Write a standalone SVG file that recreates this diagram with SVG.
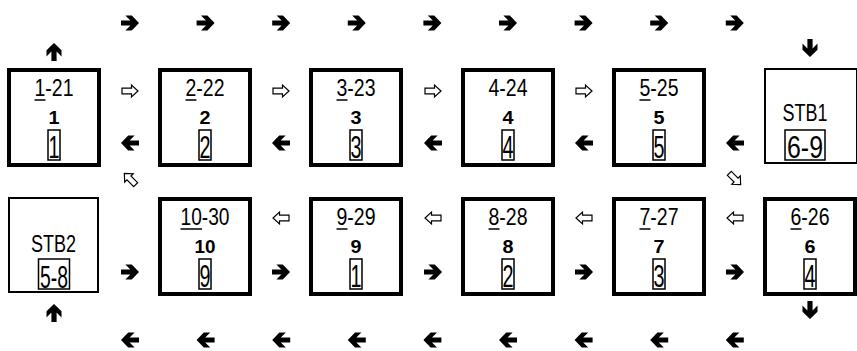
<svg xmlns="http://www.w3.org/2000/svg" xmlns:xlink="http://www.w3.org/1999/xlink" width="857" height="351" viewBox="0 0 857 351">
<style>
text{font-family:"Liberation Sans",Arial,sans-serif;fill:#000;text-anchor:middle}
.l1{font-size:24px}
.l2{font-size:19px;font-weight:bold}
.l3{font-size:32px}
.thick{fill:#fff;stroke:#000;stroke-width:4}
.thin{fill:#fff;stroke:#000;stroke-width:2}
.ib{fill:none;stroke:#000;stroke-width:1.5}
.ul{stroke:#000;stroke-width:1.5}
.bold{fill:#000}
.hollow{fill:#fff;stroke:#000;stroke-width:1.2;stroke-linejoin:miter}
</style>
<defs>
<path id="ab" class="bold" d="M -9,-2.6 H 0.4 L -4.6,-7.5 H 1.8 L 9,0 L 1.8,7.5 H -4.6 L 0.4,2.6 H -9 Z"/>
<path id="ah" class="hollow" d="M -8,-2.8 H 1.5 V -6 L 8,0 L 1.5,6 V 2.8 H -8 Z"/>
</defs>
<rect width="857" height="351" fill="#fff"/>

<!-- top row -->
<g id="n1"><rect class="thick" x="9" y="70" width="90" height="95"/>
<text class="l1" x="54" y="96" textLength="39" lengthAdjust="spacingAndGlyphs">1-21</text><line class="ul" x1="34.5" y1="100" x2="45.5" y2="100"/>
<text class="l2" x="54" y="123.5" textLength="11" lengthAdjust="spacingAndGlyphs">1</text>
<rect class="ib" x="48" y="130" width="12" height="30"/><text class="l3" x="54" y="158" textLength="11" lengthAdjust="spacingAndGlyphs">1</text></g>

<g id="n2"><rect class="thick" x="160" y="70" width="90" height="95"/>
<text class="l1" x="205" y="96" textLength="39" lengthAdjust="spacingAndGlyphs">2-22</text><line class="ul" x1="185.5" y1="100" x2="196.5" y2="100"/>
<text class="l2" x="205" y="123.5" textLength="11" lengthAdjust="spacingAndGlyphs">2</text>
<rect class="ib" x="199" y="130" width="12" height="30"/><text class="l3" x="205" y="158" textLength="11" lengthAdjust="spacingAndGlyphs">2</text></g>

<g id="n3"><rect class="thick" x="311" y="70" width="90" height="95"/>
<text class="l1" x="356" y="96" textLength="39" lengthAdjust="spacingAndGlyphs">3-23</text><line class="ul" x1="336.5" y1="100" x2="347.5" y2="100"/>
<text class="l2" x="356" y="123.5" textLength="11" lengthAdjust="spacingAndGlyphs">3</text>
<rect class="ib" x="350" y="130" width="12" height="30"/><text class="l3" x="356" y="158" textLength="11" lengthAdjust="spacingAndGlyphs">3</text></g>

<g id="n4"><rect class="thick" x="463" y="70" width="90" height="95"/>
<text class="l1" x="508" y="96" textLength="39" lengthAdjust="spacingAndGlyphs">4-24</text>
<text class="l2" x="508" y="123.5" textLength="11" lengthAdjust="spacingAndGlyphs">4</text>
<rect class="ib" x="502" y="130" width="12" height="30"/><text class="l3" x="508" y="158" textLength="11" lengthAdjust="spacingAndGlyphs">4</text></g>

<g id="n5"><rect class="thick" x="614" y="70" width="90" height="95"/>
<text class="l1" x="659" y="96" textLength="39" lengthAdjust="spacingAndGlyphs">5-25</text><line class="ul" x1="639.5" y1="100" x2="650.5" y2="100"/>
<text class="l2" x="659" y="123.5" textLength="11" lengthAdjust="spacingAndGlyphs">5</text>
<rect class="ib" x="653" y="130" width="12" height="30"/><text class="l3" x="659" y="158" textLength="11" lengthAdjust="spacingAndGlyphs">5</text></g>

<g id="stb1"><rect class="thin" x="765" y="69" width="92" height="94"/>
<text class="l1" x="805" y="121" textLength="45" lengthAdjust="spacingAndGlyphs">STB1</text>
<rect class="ib" x="785" y="130" width="40" height="30"/><text class="l3" x="805" y="158" textLength="36" lengthAdjust="spacingAndGlyphs">6-9</text></g>

<!-- bottom row -->
<g id="stb2"><rect class="thin" x="9" y="198" width="89" height="94"/>
<text class="l1" x="53.5" y="252" textLength="45" lengthAdjust="spacingAndGlyphs">STB2</text>
<rect class="ib" x="38.5" y="259" width="31" height="30"/><text class="l3" x="54" y="287.5" textLength="28" lengthAdjust="spacingAndGlyphs">5-8</text></g>

<g id="n10"><rect class="thick" x="160" y="199" width="90" height="95"/>
<text class="l1" x="205" y="225" textLength="49" lengthAdjust="spacingAndGlyphs">10-30</text><line class="ul" x1="180.5" y1="229" x2="202" y2="229"/>
<text class="l2" x="205" y="252.5" textLength="21" lengthAdjust="spacingAndGlyphs">10</text>
<rect class="ib" x="199" y="259" width="12" height="30"/><text class="l3" x="205" y="287" textLength="11" lengthAdjust="spacingAndGlyphs">9</text></g>

<g id="n9"><rect class="thick" x="311" y="199" width="90" height="95"/>
<text class="l1" x="356" y="225" textLength="39" lengthAdjust="spacingAndGlyphs">9-29</text><line class="ul" x1="336.5" y1="229" x2="347.5" y2="229"/>
<text class="l2" x="356" y="252.5" textLength="11" lengthAdjust="spacingAndGlyphs">9</text>
<rect class="ib" x="350" y="259" width="12" height="30"/><text class="l3" x="356" y="287" textLength="11" lengthAdjust="spacingAndGlyphs">1</text></g>

<g id="n8"><rect class="thick" x="463" y="199" width="90" height="95"/>
<text class="l1" x="508" y="225" textLength="39" lengthAdjust="spacingAndGlyphs">8-28</text><line class="ul" x1="488.5" y1="229" x2="499.5" y2="229"/>
<text class="l2" x="508" y="252.5" textLength="11" lengthAdjust="spacingAndGlyphs">8</text>
<rect class="ib" x="502" y="259" width="12" height="30"/><text class="l3" x="508" y="287" textLength="11" lengthAdjust="spacingAndGlyphs">2</text></g>

<g id="n7"><rect class="thick" x="614" y="199" width="90" height="95"/>
<text class="l1" x="659" y="225" textLength="39" lengthAdjust="spacingAndGlyphs">7-27</text><line class="ul" x1="639.5" y1="229" x2="650.5" y2="229"/>
<text class="l2" x="659" y="252.5" textLength="11" lengthAdjust="spacingAndGlyphs">7</text>
<rect class="ib" x="653" y="259" width="12" height="30"/><text class="l3" x="659" y="287" textLength="11" lengthAdjust="spacingAndGlyphs">3</text></g>

<g id="n6"><rect class="thick" x="765" y="199" width="90" height="95"/>
<text class="l1" x="810" y="225" textLength="39" lengthAdjust="spacingAndGlyphs">6-26</text><line class="ul" x1="790.5" y1="229" x2="801.5" y2="229"/>
<text class="l2" x="810" y="252.5" textLength="11" lengthAdjust="spacingAndGlyphs">6</text>
<rect class="ib" x="804" y="259" width="12" height="30"/><text class="l3" x="810" y="287" textLength="11" lengthAdjust="spacingAndGlyphs">4</text></g>

<g id="connectors">
<use xlink:href="#ab" transform="translate(130,23)"/>
<use xlink:href="#ab" transform="translate(205.6,23)"/>
<use xlink:href="#ab" transform="translate(281.2,23)"/>
<use xlink:href="#ab" transform="translate(356.8,23)"/>
<use xlink:href="#ab" transform="translate(432.4,23)"/>
<use xlink:href="#ab" transform="translate(508,23)"/>
<use xlink:href="#ab" transform="translate(583.6,23)"/>
<use xlink:href="#ab" transform="translate(659.2,23)"/>
<use xlink:href="#ab" transform="translate(734.8,23)"/>
<use xlink:href="#ab" transform="translate(54,52) rotate(-90)"/>
<use xlink:href="#ab" transform="translate(810,48) rotate(90)"/>
<use xlink:href="#ab" transform="translate(54,313) rotate(-90)"/>
<use xlink:href="#ab" transform="translate(810,310) rotate(90)"/>
<use xlink:href="#ah" transform="translate(130,91)"/>
<use xlink:href="#ah" transform="translate(281,91)"/>
<use xlink:href="#ah" transform="translate(433,91)"/>
<use xlink:href="#ah" transform="translate(584,91)"/>
<use xlink:href="#ab" transform="translate(130,143) rotate(180)"/>
<use xlink:href="#ab" transform="translate(281,143) rotate(180)"/>
<use xlink:href="#ab" transform="translate(433,143) rotate(180)"/>
<use xlink:href="#ab" transform="translate(584,143) rotate(180)"/>
<use xlink:href="#ab" transform="translate(735,143) rotate(180)"/>
<use xlink:href="#ah" transform="translate(130,179) rotate(-135)"/>
<use xlink:href="#ah" transform="translate(735,179) rotate(45)"/>
<use xlink:href="#ah" transform="translate(281,218) rotate(180)"/>
<use xlink:href="#ah" transform="translate(433,218) rotate(180)"/>
<use xlink:href="#ah" transform="translate(584,218) rotate(180)"/>
<use xlink:href="#ah" transform="translate(735,218) rotate(180)"/>
<use xlink:href="#ab" transform="translate(130,272)"/>
<use xlink:href="#ab" transform="translate(281,272)"/>
<use xlink:href="#ab" transform="translate(433,272)"/>
<use xlink:href="#ab" transform="translate(584,272)"/>
<use xlink:href="#ab" transform="translate(735,272)"/>
<use xlink:href="#ab" transform="translate(130,340) rotate(180)"/>
<use xlink:href="#ab" transform="translate(205.6,340) rotate(180)"/>
<use xlink:href="#ab" transform="translate(281.2,340) rotate(180)"/>
<use xlink:href="#ab" transform="translate(356.8,340) rotate(180)"/>
<use xlink:href="#ab" transform="translate(432.4,340) rotate(180)"/>
<use xlink:href="#ab" transform="translate(508,340) rotate(180)"/>
<use xlink:href="#ab" transform="translate(583.6,340) rotate(180)"/>
<use xlink:href="#ab" transform="translate(659.2,340) rotate(180)"/>
<use xlink:href="#ab" transform="translate(734.8,340) rotate(180)"/>
</g>
</svg>
